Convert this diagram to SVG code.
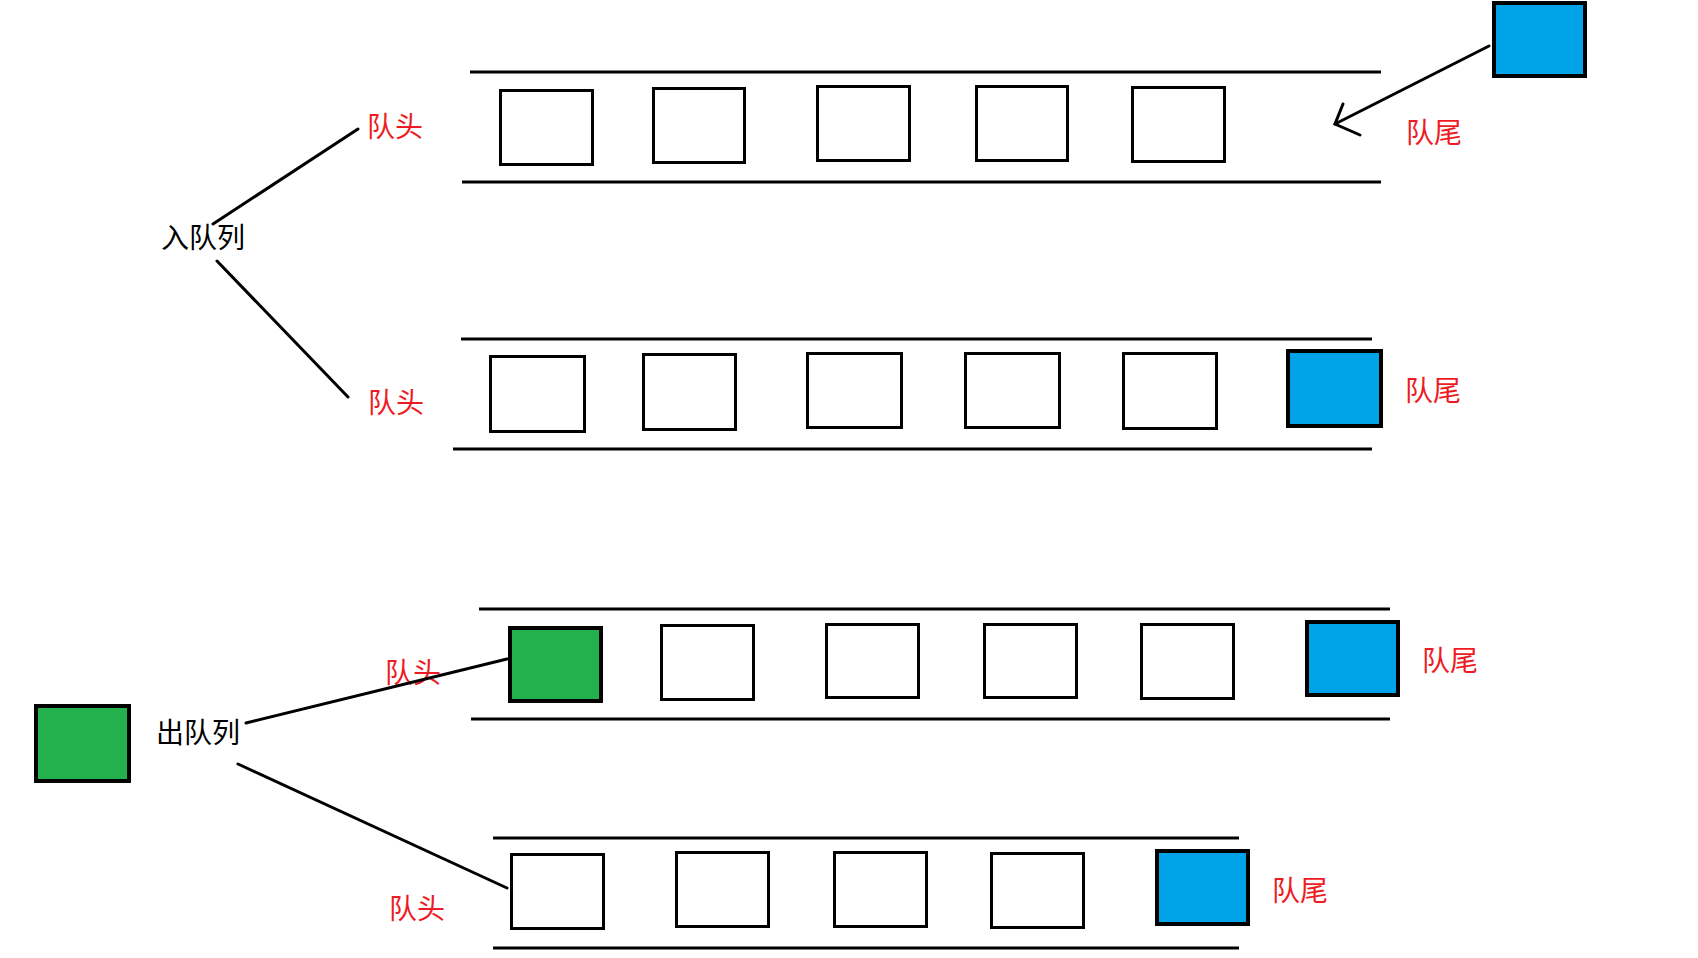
<svg xmlns="http://www.w3.org/2000/svg" width="1698" height="958" viewBox="0 0 1698 958">
<style>
.bg{fill:#ffffff}
.rail{stroke:#000;stroke-width:3;fill:none}
.box{fill:#ffffff;stroke:#000;stroke-width:3}
.blue{fill:#00A2E8;stroke:#000;stroke-width:4}
.green{fill:#22B14C;stroke:#000;stroke-width:4}
.lbl{font-family:"Noto Sans CJK SC","Noto Sans",sans-serif;font-size:28px;fill:#ED1C24}
.act{font-family:"Noto Sans CJK SC","Noto Sans",sans-serif;font-size:28px;fill:#000}
.conn{stroke:#000;stroke-width:3;fill:none;stroke-linecap:round}
</style>
<rect class="bg" x="0" y="0" width="1698" height="958"/>

<g id="queue1">
  <line class="rail" x1="470" y1="72" x2="1381" y2="72"/>
  <line class="rail" x1="462" y1="182" x2="1381" y2="182"/>
  <rect class="box" x="500.5" y="90.5" width="92" height="74"/>
  <rect class="box" x="653.5" y="88.5" width="91" height="74"/>
  <rect class="box" x="817.5" y="86.5" width="92" height="74"/>
  <rect class="box" x="976.5" y="86.5" width="91" height="74"/>
  <rect class="box" x="1132.5" y="87.5" width="92" height="74"/>
</g>
<g id="incoming">
  <rect class="blue" x="1494" y="3" width="91" height="73"/>
</g>
<g id="queue2">
  <line class="rail" x1="461" y1="339" x2="1372" y2="339"/>
  <line class="rail" x1="453" y1="449" x2="1372" y2="449"/>
  <rect class="box" x="490.5" y="356.5" width="94" height="75"/>
  <rect class="box" x="643.5" y="354.5" width="92" height="75"/>
  <rect class="box" x="807.5" y="353.5" width="94" height="74"/>
  <rect class="box" x="965.5" y="353.5" width="94" height="74"/>
  <rect class="box" x="1123.5" y="353.5" width="93" height="75"/>
  <rect class="blue" x="1288" y="351" width="93" height="75"/>
</g>
<g id="queue3">
  <line class="rail" x1="479" y1="609" x2="1390" y2="609"/>
  <line class="rail" x1="471" y1="719" x2="1390" y2="719"/>
  <rect class="green" x="510" y="628" width="91" height="73"/>
  <rect class="box" x="661.5" y="625.5" width="92" height="74"/>
  <rect class="box" x="826.5" y="624.5" width="92" height="73"/>
  <rect class="box" x="984.5" y="624.5" width="92" height="73"/>
  <rect class="box" x="1141.5" y="624.5" width="92" height="74"/>
  <rect class="blue" x="1307" y="622" width="91" height="73"/>
</g>
<g id="queue4">
  <line class="rail" x1="493" y1="838" x2="1239" y2="838"/>
  <line class="rail" x1="493" y1="948" x2="1239" y2="948"/>
  <rect class="box" x="511.5" y="854.5" width="92" height="74"/>
  <rect class="box" x="676.5" y="852.5" width="92" height="74"/>
  <rect class="box" x="834.5" y="852.5" width="92" height="74"/>
  <rect class="box" x="991.5" y="853.5" width="92" height="74"/>
  <rect class="blue" x="1157" y="851" width="91" height="73"/>
</g>
<g id="outgoing">
  <rect class="green" x="36" y="706" width="93" height="75"/>
</g>

<g id="label-enqueue"><text class="act" x="161" y="248">入队列</text></g>
<g id="label-dequeue"><text class="act" x="156" y="743">出队列</text></g>
<g id="label-head1"><text class="lbl" x="367" y="137">队头</text></g>
<g id="label-head2"><text class="lbl" x="368" y="413">队头</text></g>
<g id="label-head3"><text class="lbl" x="385" y="683">队头</text></g>
<g id="label-head4"><text class="lbl" x="389" y="919">队头</text></g>
<g id="label-tail1"><text class="lbl" x="1406" y="143">队尾</text></g>
<g id="label-tail2"><text class="lbl" x="1405" y="401">队尾</text></g>
<g id="label-tail3"><text class="lbl" x="1422" y="671">队尾</text></g>
<g id="label-tail4"><text class="lbl" x="1272" y="901">队尾</text></g>

<g id="connectors">
  <line class="conn" x1="213" y1="224" x2="358" y2="129"/>
  <line class="conn" x1="217" y1="261" x2="348" y2="397"/>
  <line class="conn" x1="1489" y1="46" x2="1335" y2="124"/>
  <polyline class="conn" points="1343,104 1335,124 1360,135"/>
  <line class="conn" x1="246" y1="723" x2="507" y2="659"/>
  <line class="conn" x1="238" y1="764" x2="507" y2="888"/>
</g>
</svg>
